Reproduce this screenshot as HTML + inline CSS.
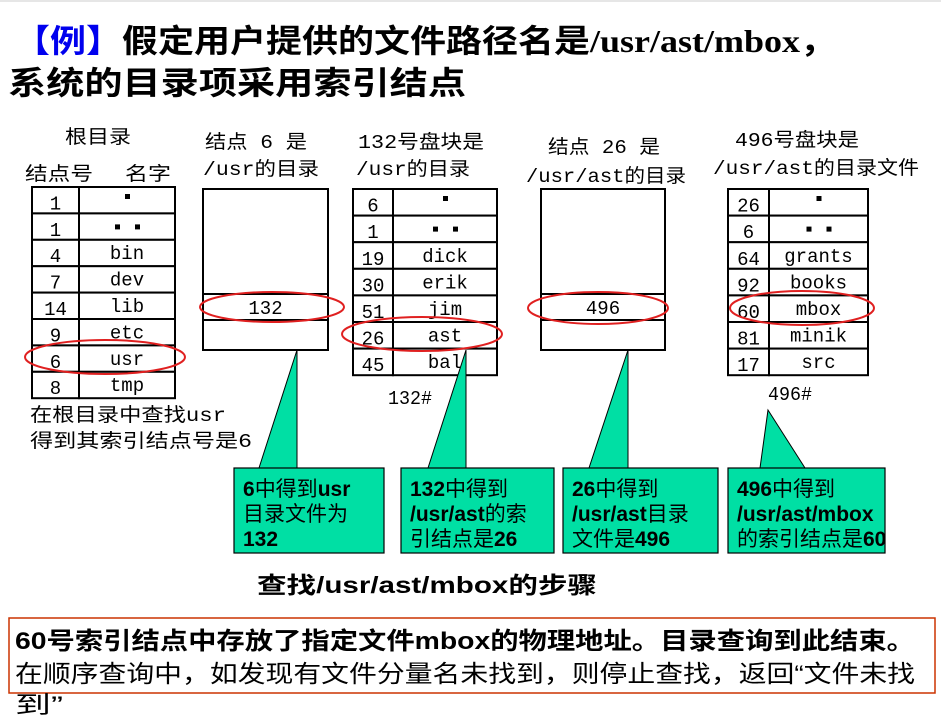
<!DOCTYPE html>
<html><head><meta charset="utf-8"><style>
body{margin:0;background:#fff}
svg{display:block}
.t{font-family:"Liberation Sans","Noto Sans CJK SC",sans-serif}
.m{font-family:"Liberation Mono","Noto Sans CJK SC",monospace;font-size:19px}
.cell{fill:#fff;stroke:#000;stroke-width:2}
.ell{fill:none;stroke:#e02020;stroke-width:2}
.cb{fill:#00dfa4;stroke:#000;stroke-width:1.2}
.ct{font-family:"Liberation Sans","Noto Sans CJK SC",sans-serif;font-size:21px;fill:#000}
</style></head><body>
<svg width="941" height="720" viewBox="0 0 941 720">
<line x1="0" y1="1" x2="941" y2="1" stroke="#ccc"/>
<text class="t" x="14" y="52" font-size="32" font-weight="bold" textLength="822" lengthAdjust="spacingAndGlyphs"><tspan fill="#0000ee">【例】</tspan>假定用户提供的文件路径名是<tspan font-family="Liberation Serif,serif">/usr/ast/mbox</tspan>，</text>
<text class="t" x="8" y="94" font-size="32" font-weight="bold" textLength="458" lengthAdjust="spacingAndGlyphs">系统的目录项采用索引结点</text>

<g id="diagram"></g>

<text class="t" x="257" y="593" font-size="23" font-weight="bold" textLength="340" lengthAdjust="spacingAndGlyphs">查找/usr/ast/mbox的步骤</text>

<rect x="9" y="618" width="926" height="75" fill="#fff" stroke="#cc3300" stroke-width="1.5"/>
<text class="t" x="15" y="649" font-size="24" font-weight="bold" textLength="900" lengthAdjust="spacingAndGlyphs">60号索引结点中存放了指定文件mbox的物理地址。目录查询到此结束。</text>
<text class="t" x="15" y="682" font-size="24" textLength="900" lengthAdjust="spacingAndGlyphs">在顺序查询中，如发现有文件分量名未找到，则停止查找，返回“文件未找</text>
<text class="t" x="15" y="713" font-size="24" textLength="48" lengthAdjust="spacingAndGlyphs">到”</text>
</svg>
<script>
const NS='http://www.w3.org/2000/svg';
const g=document.getElementById('diagram');
function el(tag,attrs,txt){const e=document.createElementNS(NS,tag);for(const k in attrs)e.setAttribute(k,attrs[k]);if(txt!==undefined)e.textContent=txt;g.appendChild(e);return e;}
const rootNums=['1','1','4','7','14','9','6','8'];
const rootNames=['.','..','bin','dev','lib','etc','usr','tmp'];
const usrNums=['6','1','19','30','51','26','45'];
const usrNames=['.','..','dick','erik','jim','ast','bal'];
const astNums=['26','6','64','92','60','81','17'];
const astNames=['.','..','grants','books','mbox','minik','src'];
function table(x,y,w1,w2,h,nums,names,key){
  nums.forEach((n,i)=>{
    const yy=y+i*h;
    const a=el('rect',{class:'cell',x:x,y:yy,width:w1,height:h});
    
    
    const b=el('rect',{class:'cell',x:x+w1,y:yy,width:w2,height:h});
    
    
    const t1=el('text',{class:'m',x:x+w1/2,y:yy+h-4,'text-anchor':'middle','font-size':21},n);
    
    
    let nm=names[i];
    if(nm==='.'||nm==='..'){
      const dots=nm.length;
      for(let d=0;d<dots;d++){
        const cx=x+w1+w2/2+(dots===2?(d?10:-10):0);
        const r=el('rect',{x:cx-2,y:yy+7+(dots===2?4:0),width:5,height:5,fill:'#000'});
        
        
      }
    } else {
      const t2=el('text',{class:'m',x:x+w1+w2/2,y:yy+h-7,'text-anchor':'middle','font-size':20},nm);
      
      
    }
  });
}
function label(x,y,s,w){const a={class:'m',x:x,y:y,'font-size':20};if(w){a.textLength=w;a.lengthAdjust='spacingAndGlyphs';}const t=el('text',a,s);}
label(65,143,'根目录',66);label(25,180,'结点号',68);label(125,180,'名字',46);
table(32,187,47,96,26.4,rootNums,rootNames,'root');
label(30,421,'在根目录中查找usr',196);label(30,447,'得到其索引结点号是6',222);
label(205,148,'结点 6 是',102);label(203,175,'/usr的目录',116);
function inodeBox(x,w,val,key){
  const r=el('rect',{class:'cell',x:x,y:189,width:w,height:161});
  
  const l1=el('line',{x1:x,y1:294,x2:x+w,y2:294,stroke:'#000','stroke-width':2});
  
  const l2=el('line',{x1:x,y1:320,x2:x+w,y2:320,stroke:'#000','stroke-width':2});
  
  const t=el('text',{class:'m',x:x+w/2,y:314,'text-anchor':'middle','font-size':21},val);
  
}
inodeBox(203,125,'132','inode6');
label(358,148,'132号盘块是',126);label(356,175,'/usr的目录',114);
table(353,189,40,104,26.6,usrNums,usrNames,'usr');
label(388,404,'132#',44);
label(548,153,'结点 26 是',112);label(526,182,'/usr/ast的目录',160);
inodeBox(541,124,'496','inode26');
label(735,146,'496号盘块是',124);label(713,174,'/usr/ast的目录文件',206);
table(728,189,41,99,26.6,astNums,astNames,'ast');
label(768,400,'496#',44);
const ells=[[105,357,80,17],[272,307,72,15],[422,334,80,17],[598,308,70,16],[802,308,72,17]];
ells.forEach(e=>{const o=el('ellipse',{class:'ell',cx:e[0],cy:e[1],rx:e[2],ry:e[3]});});
const pts=[[[297,350],[259,468],[297,468]],[[466,350],[428,468],[466,468]],[[628,350],[589,468],[628,468]],[[768,410],[760,468],[805,468]]];
pts.forEach(p=>{const o=el('polygon',{points:p.map(q=>q.join(',')).join(' '),fill:'#00dfa4',stroke:'#000','stroke-width':1});});
const boxes=[[234,150,[['6','b'],['中得到'],['usr','b']],[['目录文件为']],[['132','b']]],
[401,153,[['132','b'],['中得到']],[['/usr/ast','b'],['的索']],[['引结点是'],['26','b']]],
[563,155,[['26','b'],['中得到']],[['/usr/ast','b'],['目录']],[['文件是'],['496','b']]],
[728,157,[['496','b'],['中得到']],[['/usr/ast/mbox','b']],[['的索引结点是'],['60','b']]]];
boxes.forEach(b=>{
  const r=el('rect',{class:'cb',x:b[0],y:468,width:b[1],height:85});
  
  for(let i=0;i<3;i++){
    const t=el('text',{class:'ct',x:b[0]+9,y:496+i*25});
    
    b[2+i].forEach(s=>{const ts=document.createElementNS(NS,'tspan');if(s[1])ts.setAttribute('font-weight','bold');ts.textContent=s[0];t.appendChild(ts);});
  }
});
</script>
</body></html>
